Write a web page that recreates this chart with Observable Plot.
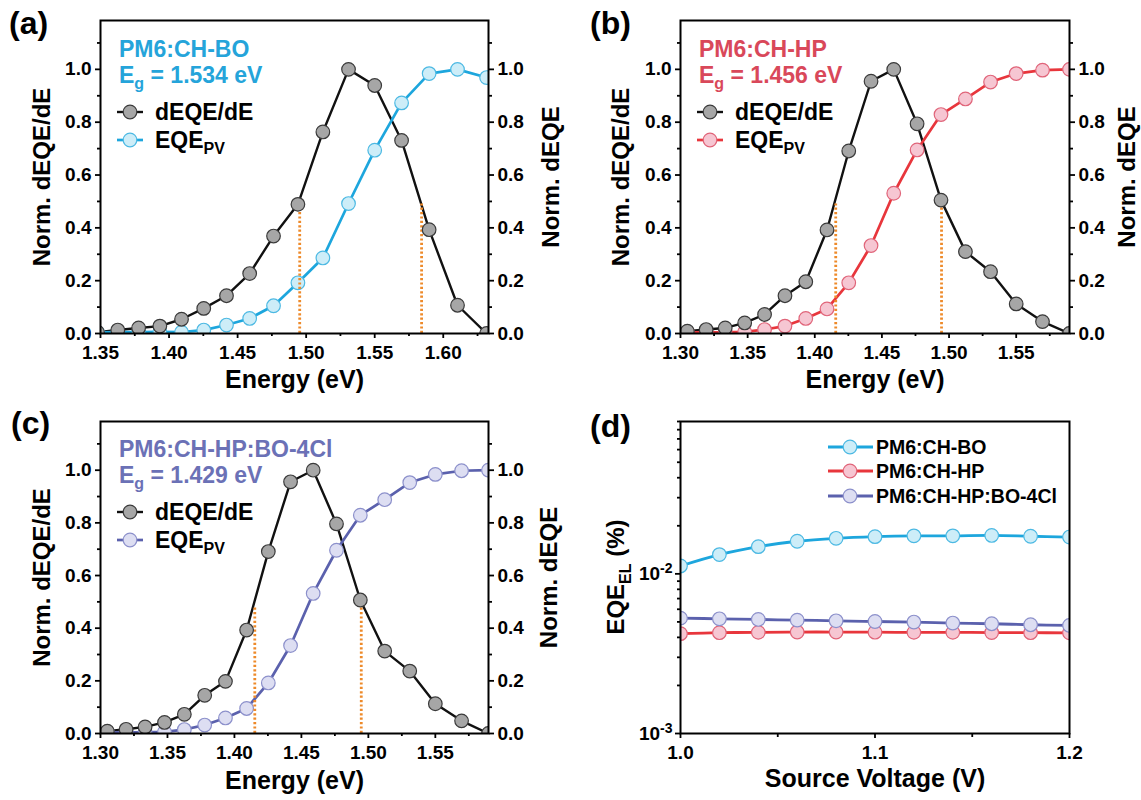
<!DOCTYPE html>
<html><head><meta charset="utf-8">
<script src="https://cdn.jsdelivr.net/npm/d3@7"></script>
<script src="https://cdn.jsdelivr.net/npm/@observablehq/plot@0.6"></script>
<style>
html,body{margin:0;padding:0;background:#fff;}
#wrap{position:relative;width:1141px;height:800px;overflow:hidden;font-family:"Liberation Sans",Arial,Helvetica,sans-serif;font-weight:bold;}
.panel{position:absolute;}
</style></head>
<body><div id="wrap"></div>
<script>
// ---------- data ----------
// Panel (a) PM6:CH-BO
const energyA = [1.3478, 1.3626, 1.3778, 1.3933, 1.4091, 1.4253, 1.4419, 1.4588, 1.4762, 1.4940, 1.5122, 1.5309, 1.5500, 1.5696, 1.5897, 1.6104, 1.6316, 1.6531];
const dEQEA   = [0.005, 0.013, 0.021, 0.028, 0.054, 0.095, 0.143, 0.227, 0.369, 0.489, 0.763, 1.000, 0.939, 0.731, 0.393, 0.107, 0.000, null];
const eqeA    = [0.004, 0.005, 0.005, 0.006, 0.005, 0.013, 0.032, 0.057, 0.105, 0.192, 0.286, 0.492, 0.694, 0.873, 0.984, 1.000, 0.969, 0.930];
const cutoffA = [1.4953, 1.5842];
const cutoffTopA = [0.49, 0.49];

// Panel (b) PM6:CH-HP
const energyB = [1.2917, 1.3051, 1.3191, 1.3333, 1.3478, 1.3626, 1.3778, 1.3933, 1.4091, 1.4253, 1.4419, 1.4588, 1.4762, 1.4940, 1.5122, 1.5309, 1.5500, 1.5696, 1.5897];
const dEQEB   = [0.004, 0.009, 0.015, 0.021, 0.040, 0.072, 0.143, 0.196, 0.392, 0.691, 0.955, 1.000, 0.794, 0.505, 0.310, 0.234, 0.112, 0.045, 0.000];
const eqeB    = [0.003, 0.004, 0.004, 0.004, 0.006, 0.015, 0.028, 0.057, 0.093, 0.192, 0.333, 0.531, 0.695, 0.829, 0.888, 0.952, 0.984, 0.997, 1.000];
const cutoffB = [1.4156, 1.4944];
const cutoffTopB = [0.49, 0.49];

// Panel (c) PM6:CH-HP:BO-4Cl
const energyC = [1.2917, 1.3051, 1.3191, 1.3333, 1.3478, 1.3626, 1.3778, 1.3933, 1.4091, 1.4253, 1.4419, 1.4588, 1.4762, 1.4940, 1.5122, 1.5309, 1.5500, 1.5696, 1.5897];
const dEQEC   = [0.004, 0.009, 0.016, 0.025, 0.042, 0.073, 0.145, 0.198, 0.393, 0.691, 0.956, 1.000, 0.796, 0.507, 0.313, 0.237, 0.113, 0.048, 0.000];
const eqeC    = [0.003, 0.004, 0.004, 0.004, 0.006, 0.015, 0.032, 0.059, 0.095, 0.192, 0.334, 0.532, 0.696, 0.829, 0.888, 0.953, 0.984, 0.998, 1.000];
const cutoffC = [1.4152, 1.4947];
const cutoffTopC = [0.48, 0.485];

// Panel (d) EQE_EL vs source voltage
const voltage   = [1.00, 1.02, 1.04, 1.06, 1.08, 1.10, 1.12, 1.14, 1.16, 1.18, 1.20];
const elCHBO    = [0.0112, 0.0132, 0.0148, 0.0160, 0.0167, 0.0171, 0.0173, 0.0173, 0.0174, 0.0172, 0.0170];
const elCHHP    = [0.00422, 0.00428, 0.00430, 0.00432, 0.00432, 0.00431, 0.00430, 0.00430, 0.00429, 0.00428, 0.00427];
const elBlend   = [0.00528, 0.00523, 0.00518, 0.00513, 0.00508, 0.00503, 0.00499, 0.00492, 0.00487, 0.00480, 0.00475];
const seriesNames = ["PM6:CH-BO", "PM6:CH-HP", "PM6:CH-HP:BO-4Cl"];

// tick values
const xTicksA = [1.35, 1.40, 1.45, 1.50, 1.55, 1.60];
const xMinorA = [1.375, 1.425, 1.475, 1.525, 1.575, 1.625];
const xTicksB = [1.30, 1.35, 1.40, 1.45, 1.50, 1.55];
const xMinorB = [1.325, 1.375, 1.425, 1.475, 1.525, 1.575];
const yTicks = [0, 0.2, 0.4, 0.6, 0.8, 1.0];
const yMinor = [0.1, 0.3, 0.5, 0.7, 0.9, 1.1];
const vTicks = [1.0, 1.1, 1.2];
const vMinor = [1.05, 1.15];
const elTicks = [0.001, 0.01];
const elMinor = [0.002,0.003,0.004,0.005,0.006,0.007,0.008,0.009,0.02,0.03,0.04,0.05,0.06,0.07,0.08,0.09];

// ---------- style ----------
const FONT = '"Liberation Sans", Arial, Helvetica, sans-serif';
const C = {
  cyan:   {line:"#1DA6DD", fill:"#CDEDF8", stroke:"#4CB9E3", text:"#25A4DA"},
  red:    {line:"#E8363C", fill:"#F6C6D2", stroke:"#E06479", text:"#D9485A"},
  purple: {line:"#5B61AD", fill:"#DDDEF2", stroke:"#8C90CB", text:"#6B71B6"}
};
const ORANGE = "#EE8A2A";
const wrap = document.getElementById("wrap");

function place(svg, left, top) {
  svg.classList.add("panel");
  svg.style.left = left + "px";
  svg.style.top = top + "px";
  wrap.appendChild(svg);
  return d3.select(svg);
}

function addPanelLabel(sel, text, x, y) {
  sel.append("text").attr("x", x).attr("y", y).attr("font-size", 32).attr("font-weight", "bold")
    .attr("text-anchor", "start").attr("font-family", FONT).attr("fill", "black").text(text);
}

function spectrum(cfg) {
  const rows = cfg.energy.map((e, i) => ({e, d: cfg.dEQE[i], q: cfg.eqe[i]}));
  const cuts = cfg.cutoff.map((e, i) => ({e, top: cfg.cutoffTop[i]}));
  const axisCommon = {label: null, strokeWidth: 1.8, fontSize: 19, fontWeight: "bold"};
  const plot = Plot.plot({
    width: cfg.width, height: 400,
    marginLeft: cfg.ml, marginRight: cfg.mr, marginTop: cfg.mt, marginBottom: cfg.mb,
    x: {domain: cfg.xDomain},
    y: {domain: [0, 1.185]},
    style: {fontFamily: FONT, fontWeight: "bold", background: "transparent", overflow: "visible", color: "black"},
    marks: [
      Plot.axisX({...axisCommon, ticks: cfg.xTicks, tickSize: 5, tickPadding: 7, tickFormat: d3.format(".2f")}),
      Plot.axisX({...axisCommon, ticks: cfg.xMinor, tickSize: 3, tickFormat: () => ""}),
      Plot.axisY({...axisCommon, anchor: "left", ticks: yTicks, tickSize: 5, tickPadding: 4, tickFormat: d3.format(".1f")}),
      Plot.axisY({...axisCommon, anchor: "left", ticks: yMinor, tickSize: 3, tickFormat: () => ""}),
      Plot.axisY({...axisCommon, anchor: "right", ticks: yTicks, tickSize: 5, tickPadding: 4, tickFormat: d3.format(".1f")}),
      Plot.axisY({...axisCommon, anchor: "right", ticks: yMinor, tickSize: 3, tickFormat: () => ""}),
      Plot.line(rows, {x: "e", y: "d", stroke: "#111", strokeWidth: 2.4, clip: true}),
      Plot.line(rows, {x: "e", y: "q", stroke: cfg.color.line, strokeWidth: 2.7, clip: true}),
      Plot.dot(rows, {x: "e", y: "q", r: 6.8, fill: cfg.color.fill, stroke: cfg.color.stroke, strokeWidth: 1.2, clip: true}),
      Plot.ruleX(cuts, {x: "e", y1: () => 0, y2: "top", stroke: ORANGE, strokeWidth: 2.8, strokeDasharray: "2.2 2.2"}),
      Plot.dot(rows, {x: "e", y: "d", r: 6.8, fill: "#A6A6A6", stroke: "#3A3A3A", strokeWidth: 1.2, clip: true}),
      Plot.frame({stroke: "black", strokeWidth: 2}),
      Plot.text([cfg.xLabel], {text: d => d, frameAnchor: "bottom", textAnchor: "middle", dy: cfg.xLabelDy, lineAnchor: "top", fontSize: 25, fontWeight: "bold"}),
      Plot.text(["Norm. dEQE/dE"], {text: d => d, frameAnchor: "left", textAnchor: "middle", lineAnchor: "middle", dx: cfg.leftDx, rotate: -90, fontSize: 24, fontWeight: "bold"}),
      Plot.text(["Norm. dEQE"], {text: d => d, frameAnchor: "right", textAnchor: "middle", lineAnchor: "middle", dx: cfg.rightDx, rotate: -90, fontSize: 24, fontWeight: "bold"})
    ]
  });
  const sel = place(plot, cfg.left, cfg.top);
  // in-plot legend block
  const fl = cfg.ml, g = sel.append("g").attr("font-family", FONT).attr("font-weight", "bold").attr("text-anchor", "start");
  g.append("text").attr("x", fl + 19).attr("y", 57).attr("font-size", 23).attr("fill", cfg.color.text).text(cfg.title);
  const eg = g.append("text").attr("x", fl + 19).attr("y", 83).attr("font-size", 23).attr("fill", cfg.color.text);
  eg.append("tspan").text("E");
  eg.append("tspan").attr("font-size", 16).attr("dy", 6).text("g");
  eg.append("tspan").attr("dy", -6).text(" = " + cfg.eg + " eV");
  const rowsL = [
    {y: 112, line: "#111", fill: "#A6A6A6", stroke: "#3A3A3A", main: "dEQE/dE", sub: ""},
    {y: 140, line: cfg.color.line, fill: cfg.color.fill, stroke: cfg.color.stroke, main: "EQE", sub: "PV"}
  ];
  for (const r of rowsL) {
    g.append("line").attr("x1", fl + 17).attr("x2", fl + 43).attr("y1", r.y).attr("y2", r.y)
      .attr("stroke", r.line).attr("stroke-width", r.line === "#111" ? 2.4 : 2.7);
    g.append("circle").attr("cx", fl + 30).attr("cy", r.y).attr("r", 6.8)
      .attr("fill", r.fill).attr("stroke", r.stroke).attr("stroke-width", 1.2);
    const t = g.append("text").attr("x", fl + 55).attr("y", r.y + 7.5).attr("font-size", 23).attr("fill", "black");
    t.append("tspan").text(r.main);
    if (r.sub) t.append("tspan").attr("font-size", 16).attr("dy", 6).text(r.sub);
  }
  addPanelLabel(sel, cfg.panel, cfg.plx, 34);
}

spectrum({panel: "(a)", plx: 9, left: 0, top: 0, width: 570, ml: 100, mr: 82, mt: 20, mb: 67,
  energy: energyA, dEQE: dEQEA, eqe: eqeA, cutoff: cutoffA, cutoffTop: cutoffTopA,
  xDomain: [1.35, 1.633], xTicks: xTicksA, xMinor: xMinorA, color: C.cyan,
  title: "PM6:CH-BO", eg: "1.534", xLabel: "Energy (eV)", xLabelDy: 37, leftDx: -58, rightDx: 63});

spectrum({panel: "(b)", plx: 20, left: 570, top: 0, width: 571, ml: 110, mr: 72, mt: 20, mb: 67,
  energy: energyB, dEQE: dEQEB, eqe: eqeB, cutoff: cutoffB, cutoffTop: cutoffTopB,
  xDomain: [1.30, 1.5897], xTicks: xTicksB, xMinor: xMinorB, color: C.red,
  title: "PM6:CH-HP", eg: "1.456", xLabel: "Energy (eV)", xLabelDy: 37, leftDx: -59, rightDx: 58});

spectrum({panel: "(c)", plx: 11, left: 0, top: 400, width: 570, ml: 100, mr: 82, mt: 21, mb: 67,
  energy: energyC, dEQE: dEQEC, eqe: eqeC, cutoff: cutoffC, cutoffTop: cutoffTopC,
  xDomain: [1.30, 1.5897], xTicks: xTicksB, xMinor: xMinorB, color: C.purple,
  title: "PM6:CH-HP:BO-4Cl", eg: "1.429", xLabel: "Energy (eV)", xLabelDy: 38, leftDx: -58, rightDx: 61});

// ---------- panel (d) ----------
(function () {
  const cols = [C.cyan, C.red, C.purple];
  const vals = [elCHBO, elCHHP, elBlend];
  const rows = [];
  seriesNames.forEach((s, k) => voltage.forEach((v, i) => rows.push({s, v, y: vals[k][i]})));
  const axisCommon = {label: null, strokeWidth: 1.8, fontSize: 19, fontWeight: "bold"};
  const marks = [
    Plot.axisX({...axisCommon, ticks: vTicks, tickSize: 5, tickPadding: 7, tickFormat: d3.format(".1f")}),
    Plot.axisX({...axisCommon, ticks: vMinor, tickSize: 4, tickFormat: () => ""}),
    Plot.axisY({...axisCommon, anchor: "left", ticks: elTicks, tickSize: 5, tickPadding: 3,
      tickFormat: d => "10^" + Math.round(Math.log10(d))}),
    Plot.axisY({...axisCommon, anchor: "left", ticks: elMinor, tickSize: 3, tickFormat: () => ""})
  ];
  seriesNames.forEach((s, k) => {
    const data = rows.filter(r => r.s === s);
    marks.push(Plot.line(data, {x: "v", y: "y", stroke: cols[k].line, strokeWidth: 2.8, curve: "catmull-rom", clip: true}));
    marks.push(Plot.dot(data, {x: "v", y: "y", r: 6.8, fill: cols[k].fill, stroke: cols[k].stroke, strokeWidth: 1.2, clip: true}));
  });
  marks.push(Plot.frame({stroke: "black", strokeWidth: 2}));
  marks.push(Plot.text(["Source Voltage (V)"], {text: d => d, frameAnchor: "bottom", textAnchor: "middle", dy: 36, lineAnchor: "top", fontSize: 25, fontWeight: "bold"}));
  const plot = Plot.plot({
    width: 571, height: 400, marginLeft: 110, marginRight: 72, marginTop: 21, marginBottom: 67,
    x: {domain: [1.0, 1.2]},
    y: {type: "log", domain: [0.001, 0.09]},
    style: {fontFamily: FONT, fontWeight: "bold", background: "transparent", overflow: "visible", color: "black"},
    marks
  });
  const sel = place(plot, 570, 400);
  // superscript exponents in y tick labels
  sel.selectAll("text").each(function () {
    const t = d3.select(this);
    const s = t.text();
    if (/^10\^/.test(s)) {
      const exp = s.slice(3);
      t.text("");
      t.append("tspan").text("10");
      t.append("tspan").attr("dy", "-0.5em").attr("font-size", 14).text(exp);
    }
  });
  const g = sel.append("g").attr("font-family", FONT).attr("font-weight", "bold").attr("text-anchor", "start");
  // y label with subscript
  const yl = g.append("text").attr("transform", "translate(46,177) rotate(-90)")
    .attr("text-anchor", "middle").attr("font-size", 24).attr("dy", "0.35em").attr("fill", "black");
  yl.append("tspan").text("EQE");
  yl.append("tspan").attr("font-size", 16).attr("dy", 7).text("EL");
  yl.append("tspan").attr("dy", -7).text(" (%)");
  // legend
  const ly = [47, 71, 96];
  seriesNames.forEach((s, k) => {
    g.append("line").attr("x1", 258).attr("x2", 303).attr("y1", ly[k]).attr("y2", ly[k])
      .attr("stroke", cols[k].line).attr("stroke-width", 2.8);
    g.append("circle").attr("cx", 280).attr("cy", ly[k]).attr("r", 6.8)
      .attr("fill", cols[k].fill).attr("stroke", cols[k].stroke).attr("stroke-width", 1.2);
    g.append("text").attr("x", 306).attr("y", ly[k] + 7).attr("font-size", 19.5).attr("fill", "black").text(s);
  });
  addPanelLabel(sel, "(d)", 20, 37);
})();
</script>
</body></html>
